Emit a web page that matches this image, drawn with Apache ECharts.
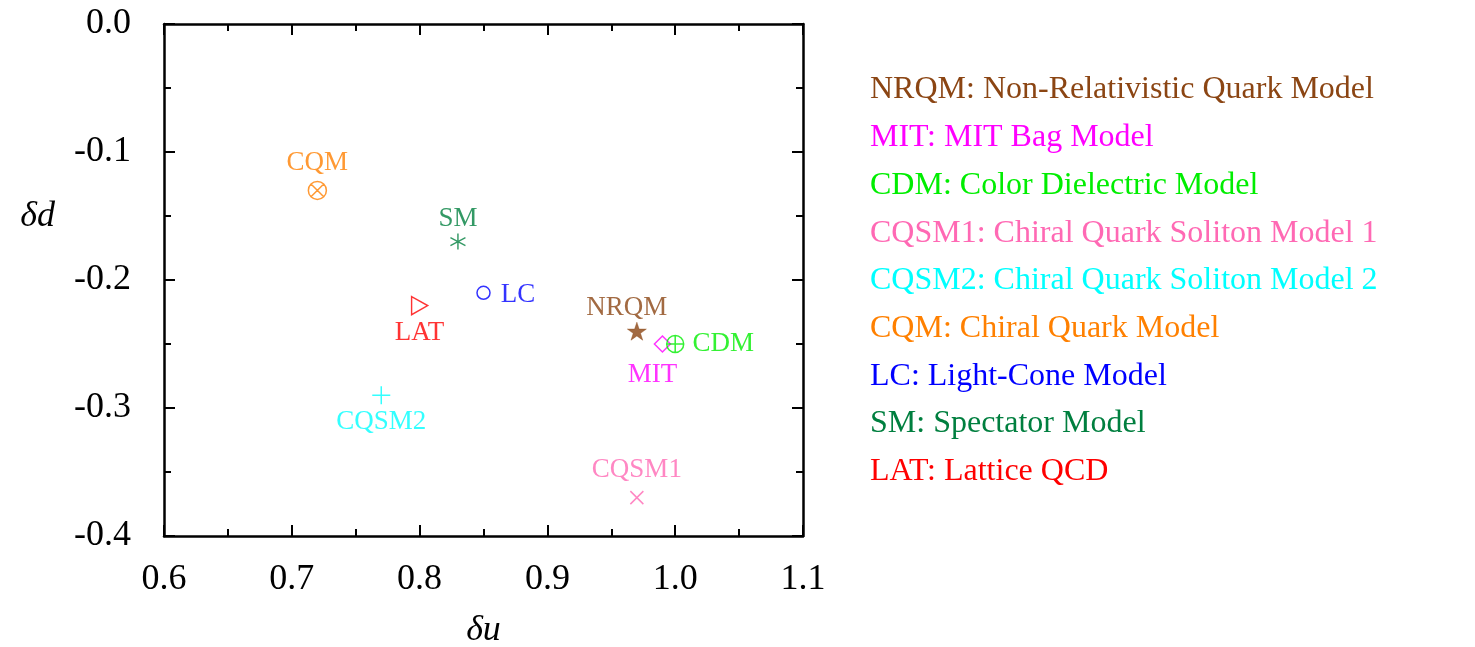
<!DOCTYPE html>
<html>
<head>
<meta charset="utf-8">
<script src="https://cdn.jsdelivr.net/npm/echarts@6/dist/echarts.min.js"></script>
<style>html,body{margin:0;padding:0;background:#fff}#c{width:1475px;height:647px}</style>
</head>
<body>
<div id="c"></div>
<script>
// ---- data ----
const modelNames = ['NRQM', 'MIT', 'CDM', 'CQSM1', 'CQSM2', 'CQM', 'LC', 'SM', 'LAT'];
const modelDescriptions = [
  'Non-Relativistic Quark Model',
  'MIT Bag Model',
  'Color Dielectric Model',
  'Chiral Quark Soliton Model 1',
  'Chiral Quark Soliton Model 2',
  'Chiral Quark Model',
  'Light-Cone Model',
  'Spectator Model',
  'Lattice QCD'
];
const deltaU = [0.97, 0.99, 1.00, 0.97, 0.77, 0.72, 0.85, 0.83, 0.80];
const deltaD = [-0.24, -0.25, -0.25, -0.37, -0.29, -0.13, -0.21, -0.17, -0.22];
const xTicks = [0.6, 0.7, 0.8, 0.9, 1.0, 1.1];
const yTicks = [-0.4, -0.3, -0.2, -0.1, 0.0];

// ---- styles ----
const colors = ['#8B4513', '#FF00FF', '#00EE00', '#FF69B4', '#00FFFF', '#FF8000', '#0000FF', '#007F3F', '#FF0000'];
const symbols = {
  NRQM: {s: 'path://M0,-10L2.245,-3.09L9.51,-3.09L3.633,1.18L5.88,8.09L0,3.82L-5.88,8.09L-3.633,1.18L-9.51,-3.09L-2.245,-3.09Z', size: [19, 18], fill: true},
  MIT: {s: 'path://M0,-10L10,0L0,10L-10,0Z', size: [16, 16]},
  CDM: {s: 'path://M10,0A10,10,0,1,1,-10,0A10,10,0,1,1,10,0ZM0,-10L0,10M-10,0L10,0', size: [17, 17]},
  CQSM1: {s: 'path://M-10,-10L10,10M-10,10L10,-10', size: [13, 13]},
  CQSM2: {s: 'path://M0,-10L0,10M-10,0L10,0', size: [18, 18]},
  CQM: {s: 'path://M10,0A10,10,0,1,1,-10,0A10,10,0,1,1,10,0ZM7.07,7.07L-7.07,-7.07M7.07,-7.07L-7.07,7.07', size: [18, 18]},
  LC: {s: 'path://M10,0A10,10,0,1,1,-10,0A10,10,0,1,1,10,0Z', size: [13, 13]},
  SM: {s: 'path://M0,-10L0,10M-8.66,-5L8.66,5M-8.66,5L8.66,-5', size: [15, 16]},
  LAT: {s: 'path://M0,0L17,9L0,18Z', size: [16, 18]}
};
const labelPos = {
  NRQM: {position: 'top', distance: 1, offset: [-10, 0]},
  MIT: {position: 'bottom', distance: 9, offset: [-10, 0]},
  CDM: {position: 'right', distance: 8, offset: [0, 0]},
  CQSM1: {position: 'top', distance: 7, offset: [0, 0]},
  CQSM2: {position: 'bottom', distance: 3, offset: [0, 0]},
  CQM: {position: 'top', distance: 4, offset: [0, 0]},
  LC: {position: 'right', distance: 10, offset: [0, 2]},
  SM: {position: 'top', distance: 0, offset: [0, 0]},
  LAT: {position: 'bottom', distance: 4, offset: [0, 0]}
};
const FONT = 'Liberation Serif';

const series = modelNames.map((n, i) => ({
  name: n,
  type: 'scatter',
  xAxisIndex: 0,
  yAxisIndex: 0,
  data: [[deltaU[i], deltaD[i]]],
  symbol: symbols[n].s,
  symbolSize: symbols[n].size,
  itemStyle: {
    color: symbols[n].fill ? colors[i] : 'rgba(0,0,0,0)',
    borderColor: colors[i],
    borderWidth: symbols[n].fill ? 0.5 : 1.5
  },
  label: {
    show: true,
    formatter: n,
    position: labelPos[n].position,
    distance: labelPos[n].distance,
    offset: labelPos[n].offset,
    color: colors[i],
    fontFamily: FONT,
    fontSize: 27
  },
  emphasis: {disabled: true},
  silent: true
}));

const axisCommon = {
  type: 'value',
  splitLine: {show: false},
  axisLine: {show: true, onZero: false, lineStyle: {color: '#000', width: 2.5}},
  axisTick: {show: true, inside: true, length: 11, lineStyle: {color: '#000', width: 2}},
  minorTick: {show: true, splitNumber: 2, length: 7, lineStyle: {color: '#000', width: 2}},
  axisLabel: {show: false}
};

const fmt = v => {
  const r = Math.round(v * 10) / 10;
  return (Object.is(r, -0) ? 0 : r).toFixed(1);
};

const option = {
  animation: false,
  backgroundColor: '#fff',
  grid: {left: 164, right: 672, top: 24, bottom: 111, containLabel: false, outerBoundsMode: 'none'},
  legend: {
    orient: 'vertical',
    left: 859,
    top: 69,
    itemWidth: 0,
    itemHeight: 0,
    itemGap: 15.7,
    selectedMode: false,
    icon: 'rect',
    data: modelNames.map((n, i) => ({name: n, textStyle: {color: colors[i]}})),
    formatter: name => name + ': ' + modelDescriptions[modelNames.indexOf(name)],
    textStyle: {fontFamily: FONT, fontSize: 32}
  },
  xAxis: [
    Object.assign({}, axisCommon, {
      position: 'bottom',
      min: xTicks[0], max: xTicks[xTicks.length - 1], interval: 0.1,
      axisLabel: {show: true, margin: 26, formatter: fmt, color: '#000', fontFamily: FONT, fontSize: 36},
      name: 'δu',
      nameLocation: 'middle',
      nameGap: 77,
      nameTextStyle: {color: '#000', fontFamily: FONT, fontStyle: 'italic', fontSize: 36}
    }),
    Object.assign({}, axisCommon, {
      position: 'top',
      min: xTicks[0], max: xTicks[xTicks.length - 1], interval: 0.1
    })
  ],
  yAxis: [
    Object.assign({}, axisCommon, {
      position: 'left',
      min: yTicks[0], max: yTicks[yTicks.length - 1], interval: 0.1,
      axisLabel: {show: true, margin: 33, formatter: fmt, color: '#000', fontFamily: FONT, fontSize: 36, padding: [12, 0, 0, 0]},
      name: '{n|δd}\n{s| }',
      nameLocation: 'middle',
      nameRotate: 0,
      nameGap: 109,
      nameTextStyle: {
        color: '#000', fontFamily: FONT, fontStyle: 'italic', fontSize: 36,
        rich: {
          n: {color: '#000', fontFamily: FONT, fontStyle: 'italic', fontSize: 36, lineHeight: 36},
          s: {fontSize: 10, lineHeight: 126}
        }
      }
    }),
    Object.assign({}, axisCommon, {
      position: 'right',
      min: yTicks[0], max: yTicks[yTicks.length - 1], interval: 0.1
    })
  ],
  series: series
};

const chart = echarts.init(document.getElementById('c'), null, {renderer: 'canvas'});
chart.setOption(option);
</script>
</body>
</html>
